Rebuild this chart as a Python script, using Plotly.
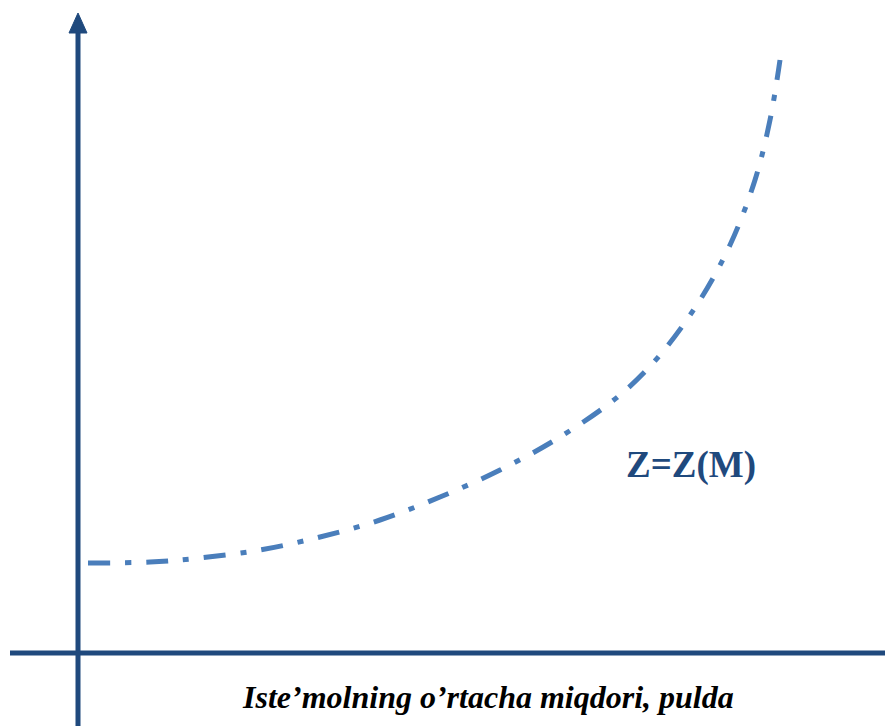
import plotly.graph_objects as go

# Curve Z = Z(M) (units: pixels from the axis origin)
m_values = [10, 72, 122, 182, 242, 302, 362, 422, 482, 542, 582, 622, 652, 677, 692, 702]
z_values = [90, 91, 95, 103, 116, 133, 156, 183, 216, 258, 298, 353, 408, 473, 533, 593]

curve_label = "Z=Z(M)"
x_axis_title = "Iste’molning o’rtacha miqdori, pulda"

AXIS_COLOR = "#1f497d"
CURVE_COLOR = "#4a7ebb"

fig = go.Figure()
fig.add_trace(go.Scatter(
    x=m_values, y=z_values, mode="lines",
    line=dict(color=CURVE_COLOR, width=5, dash="22px,15px,6px,15px", shape="spline"),
    hoverinfo="skip", showlegend=False,
))

shapes = [
    # vertical axis
    dict(type="line", x0=0, x1=0, y0=-80, y1=622, line=dict(color=AXIS_COLOR, width=5)),
    dict(type="path", path="M -9 620 L 9 620 L 0 640 Z", fillcolor=AXIS_COLOR,
         line=dict(color=AXIS_COLOR, width=1)),
    # horizontal axis
    dict(type="line", x0=-68, x1=810, y0=0, y1=0, line=dict(color=AXIS_COLOR, width=5)),
    dict(type="path", path="M 808 -9 L 808 9 L 824 0 Z", fillcolor=AXIS_COLOR,
         line=dict(color=AXIS_COLOR, width=1)),
]

annotations = [
    dict(x=613, y=188, text=f"<b>{curve_label}</b>", showarrow=False,
         font=dict(family="Liberation Serif", size=37, color=AXIS_COLOR)),
    dict(x=410, y=-44, text=f"<b><i>{x_axis_title}</i></b>", showarrow=False,
         font=dict(family="Liberation Serif", size=32, color="#000000")),
]

fig.update_layout(
    width=885, height=718,
    margin=dict(l=0, r=0, t=0, b=0),
    paper_bgcolor="white", plot_bgcolor="white",
    xaxis=dict(range=[-70, 815], visible=False, fixedrange=True),
    yaxis=dict(range=[-73, 645], visible=False, fixedrange=True),
    shapes=shapes, annotations=annotations,
)

fig.write_html("out.html")
